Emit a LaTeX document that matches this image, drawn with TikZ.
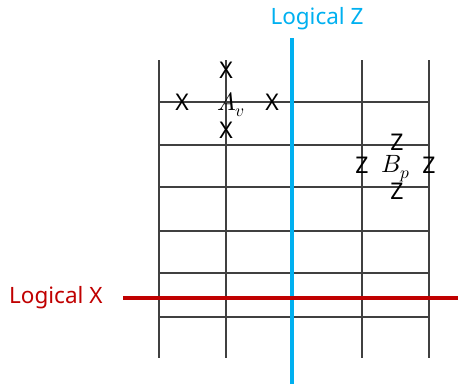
\documentclass[tikz,border=0pt]{standalone}
\usepackage{fontspec}
\setmainfont{Noto Sans}
\usepackage{unicode-math}
\setmathfont{Latin Modern Math}
\definecolor{lblue}{HTML}{00B0F0}
\definecolor{lred}{HTML}{C00000}
\definecolor{gridgray}{HTML}{404040}
\begin{document}
\begin{tikzpicture}[x=1pt,y=1pt,
  gridline/.style={draw=gridgray,line width=1.2pt},
  zline/.style={draw=lblue,line width=3.6pt},
  xline/.style={draw=lred,line width=3.6pt},
  opmark/.style={inner sep=0pt,font=\fontsize{23}{23}\selectfont},
  stablabel/.style={inner sep=0pt,font=\fontsize{25}{25}\selectfont},
  logical/.style={inner sep=0pt,font=\fontsize{22.5}{22.5}\selectfont}]
\useasboundingbox (0,0) rectangle (458,384);
% vertical grid lines
\foreach \x [count=\i] in {159,226,362,429}{
  \coordinate (vt\i) at (\x,324);
  \coordinate (vb\i) at (\x,26);
  \draw[gridline] (vt\i) -- (vb\i);
}
% horizontal grid lines
\foreach \y [count=\j] in {282,239,197,153,111,67}{
  \coordinate (hl\j) at (159,\y);
  \coordinate (hr\j) at (429,\y);
  \draw[gridline] (hl\j) -- (hr\j);
}
% logical operators
\coordinate (zt) at (292,346);
\coordinate (zb) at (292,0);
\draw[zline] (zt) -- (zb);
\coordinate (xl) at (123,86);
\coordinate (xr) at (458,86);
\draw[xline] (xl) -- (xr);
\node[logical,text=lblue] (lz) at (317,365) {Logical Z};
\node[logical,text=lred,anchor=west] (lx) at (9,86) {Logical X};
% vertex operator
\node[stablabel] (av) at (231,279) {$A_v$};
\node[opmark] (x1) at (226,314) {X};
\node[opmark] (x2) at (226,254) {X};
\node[opmark] (x3) at (182,282) {X};
\node[opmark] (x4) at (272,282) {X};
% plaquette operator
\node[stablabel] (bp) at (396,215) {$B_p$};
\node[opmark] (z1) at (397,242) {Z};
\node[opmark] (z2) at (397,193) {Z};
\node[opmark] (z3) at (362,219) {Z};
\node[opmark] (z4) at (429,219) {Z};
\end{tikzpicture}
\end{document}
